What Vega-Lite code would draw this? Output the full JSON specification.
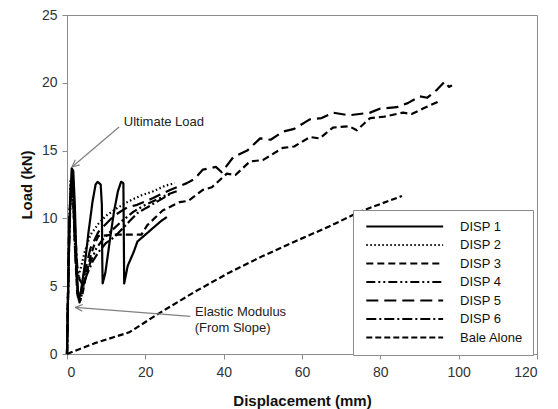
{
  "$schema": "https://vega.github.io/schema/vega-lite/v6.json",
  "width": 470,
  "height": 339,
  "autosize": "none",
  "padding": {"left": 67, "top": 15, "right": 21, "bottom": 55},
  "background": "white",
  "config": {
    "font": "Liberation Sans",
    "view": {"stroke": "#8c8c8c", "strokeWidth": 1},
    "axis": {
      "grid": false,
      "domainColor": "#8c8c8c",
      "tickColor": "#8c8c8c",
      "tickSize": 5,
      "labelFont": "Liberation Sans",
      "labelFontSize": 14,
      "labelColor": "#333333",
      "titleFont": "Liberation Sans",
      "titleFontSize": 15,
      "titleFontWeight": "bold",
      "titleColor": "#111111"
    },
    "legend": {
      "orient": "none",
      "legendX": 286,
      "legendY": 195,
      "padding": 10,
      "strokeColor": "#8c8c8c",
      "fillColor": "white",
      "symbolType": "M-1,0H23",
      "symbolSize": 41,
      "symbolStrokeColor": "black",
      "symbolFillColor": "transparent",
      "symbolStrokeWidth": 2,
      "labelFont": "Liberation Sans",
      "labelFontSize": 13,
      "labelColor": "#111111",
      "labelOffset": 84,
      "rowPadding": 4.5
    }
  },
  "datasets": {
    "curves": [
      {"s": "DISP 1", "x": 0, "y": 0}, {"s": "DISP 1", "x": 0.3, "y": 5}, {"s": "DISP 1", "x": 0.8, "y": 11}, {"s": "DISP 1", "x": 1.2, "y": 13.7}, {"s": "DISP 1", "x": 1.6, "y": 13.5}, {"s": "DISP 1", "x": 2, "y": 11}, {"s": "DISP 1", "x": 2.3, "y": 8}, {"s": "DISP 1", "x": 2.7, "y": 5}, {"s": "DISP 1", "x": 3, "y": 4}, {"s": "DISP 1", "x": 3.5, "y": 4.5}, {"s": "DISP 1", "x": 4.5, "y": 6.5}, {"s": "DISP 1", "x": 5.5, "y": 9}, {"s": "DISP 1", "x": 6.5, "y": 11.2}, {"s": "DISP 1", "x": 7.3, "y": 12.5}, {"s": "DISP 1", "x": 7.8, "y": 12.7}, {"s": "DISP 1", "x": 8.6, "y": 12.5}, {"s": "DISP 1", "x": 8.9, "y": 11}, {"s": "DISP 1", "x": 9.0, "y": 7}, {"s": "DISP 1", "x": 9.1, "y": 5.2}, {"s": "DISP 1", "x": 9.8, "y": 6}, {"s": "DISP 1", "x": 11, "y": 8.5}, {"s": "DISP 1", "x": 12, "y": 10.5}, {"s": "DISP 1", "x": 13, "y": 12}, {"s": "DISP 1", "x": 13.8, "y": 12.7}, {"s": "DISP 1", "x": 14.4, "y": 12.6}, {"s": "DISP 1", "x": 14.5, "y": 9}, {"s": "DISP 1", "x": 14.6, "y": 5.2}, {"s": "DISP 1", "x": 15.5, "y": 6.5}, {"s": "DISP 1", "x": 17, "y": 7.5}, {"s": "DISP 1", "x": 18, "y": 8.3}, {"s": "DISP 1", "x": 20.4, "y": 8.9}, {"s": "DISP 1", "x": 22, "y": 9.3}, {"s": "DISP 1", "x": 24, "y": 9.8}, {"s": "DISP 1", "x": 25.5, "y": 10.1},

      {"s": "DISP 2", "x": 0, "y": 0}, {"s": "DISP 2", "x": 0.4, "y": 7}, {"s": "DISP 2", "x": 0.9, "y": 12.8}, {"s": "DISP 2", "x": 1.4, "y": 12.9}, {"s": "DISP 2", "x": 1.8, "y": 10}, {"s": "DISP 2", "x": 2.2, "y": 7}, {"s": "DISP 2", "x": 2.6, "y": 5.5}, {"s": "DISP 2", "x": 3.4, "y": 6.2}, {"s": "DISP 2", "x": 4.5, "y": 7.5}, {"s": "DISP 2", "x": 6, "y": 8.8}, {"s": "DISP 2", "x": 8, "y": 9.6}, {"s": "DISP 2", "x": 10, "y": 10.2}, {"s": "DISP 2", "x": 13, "y": 10.8}, {"s": "DISP 2", "x": 16, "y": 11.3}, {"s": "DISP 2", "x": 19, "y": 11.7}, {"s": "DISP 2", "x": 22, "y": 12}, {"s": "DISP 2", "x": 25, "y": 12.4}, {"s": "DISP 2", "x": 27.5, "y": 12.6},

      {"s": "DISP 3", "x": 0, "y": 0}, {"s": "DISP 3", "x": 0.5, "y": 9}, {"s": "DISP 3", "x": 1, "y": 12.5}, {"s": "DISP 3", "x": 1.5, "y": 12}, {"s": "DISP 3", "x": 2, "y": 8}, {"s": "DISP 3", "x": 2.6, "y": 4.5}, {"s": "DISP 3", "x": 3.2, "y": 3.8}, {"s": "DISP 3", "x": 4, "y": 4.5}, {"s": "DISP 3", "x": 5, "y": 6}, {"s": "DISP 3", "x": 6, "y": 7.2}, {"s": "DISP 3", "x": 7, "y": 8.1}, {"s": "DISP 3", "x": 8, "y": 8.7}, {"s": "DISP 3", "x": 12, "y": 8.8}, {"s": "DISP 3", "x": 16, "y": 8.8}, {"s": "DISP 3", "x": 19, "y": 8.8}, {"s": "DISP 3", "x": 20.5, "y": 9.5}, {"s": "DISP 3", "x": 24.5, "y": 10.6}, {"s": "DISP 3", "x": 28.8, "y": 11.2}, {"s": "DISP 3", "x": 31, "y": 11.3}, {"s": "DISP 3", "x": 34.7, "y": 12.1}, {"s": "DISP 3", "x": 37, "y": 12.3}, {"s": "DISP 3", "x": 40.8, "y": 13.3}, {"s": "DISP 3", "x": 43, "y": 13.2}, {"s": "DISP 3", "x": 46.7, "y": 14.2}, {"s": "DISP 3", "x": 50, "y": 14.3}, {"s": "DISP 3", "x": 55.1, "y": 15.2}, {"s": "DISP 3", "x": 58, "y": 15.3}, {"s": "DISP 3", "x": 62, "y": 16}, {"s": "DISP 3", "x": 64.5, "y": 15.9}, {"s": "DISP 3", "x": 67.9, "y": 16.7}, {"s": "DISP 3", "x": 72, "y": 16.8}, {"s": "DISP 3", "x": 74, "y": 16.5}, {"s": "DISP 3", "x": 77.4, "y": 17.4}, {"s": "DISP 3", "x": 81, "y": 17.5}, {"s": "DISP 3", "x": 85.8, "y": 17.8}, {"s": "DISP 3", "x": 88, "y": 17.7}, {"s": "DISP 3", "x": 90.9, "y": 18.1}, {"s": "DISP 3", "x": 94.7, "y": 18.6},

      {"s": "DISP 4", "x": 0, "y": 0}, {"s": "DISP 4", "x": 0.5, "y": 8}, {"s": "DISP 4", "x": 1, "y": 12}, {"s": "DISP 4", "x": 1.6, "y": 11}, {"s": "DISP 4", "x": 2.2, "y": 7}, {"s": "DISP 4", "x": 2.8, "y": 4.2}, {"s": "DISP 4", "x": 3.5, "y": 4}, {"s": "DISP 4", "x": 4.5, "y": 5.5}, {"s": "DISP 4", "x": 6, "y": 6.8}, {"s": "DISP 4", "x": 7.5, "y": 7.8}, {"s": "DISP 4", "x": 9, "y": 8.4}, {"s": "DISP 4", "x": 11, "y": 9}, {"s": "DISP 4", "x": 14, "y": 9.8}, {"s": "DISP 4", "x": 17, "y": 10.5}, {"s": "DISP 4", "x": 20, "y": 11}, {"s": "DISP 4", "x": 23, "y": 11.4}, {"s": "DISP 4", "x": 26, "y": 11.8}, {"s": "DISP 4", "x": 28, "y": 12},

      {"s": "DISP 5", "x": 0, "y": 0}, {"s": "DISP 5", "x": 0.6, "y": 10}, {"s": "DISP 5", "x": 1.1, "y": 13.2}, {"s": "DISP 5", "x": 1.5, "y": 13}, {"s": "DISP 5", "x": 1.9, "y": 9.5}, {"s": "DISP 5", "x": 2.4, "y": 6}, {"s": "DISP 5", "x": 2.9, "y": 4.2}, {"s": "DISP 5", "x": 3.6, "y": 4.6}, {"s": "DISP 5", "x": 4.5, "y": 6}, {"s": "DISP 5", "x": 6, "y": 7.8}, {"s": "DISP 5", "x": 8, "y": 9}, {"s": "DISP 5", "x": 10, "y": 9.6}, {"s": "DISP 5", "x": 12, "y": 10.2}, {"s": "DISP 5", "x": 15.3, "y": 10.8}, {"s": "DISP 5", "x": 17.9, "y": 11}, {"s": "DISP 5", "x": 22, "y": 11.5}, {"s": "DISP 5", "x": 26.3, "y": 12.1}, {"s": "DISP 5", "x": 30.6, "y": 12.6}, {"s": "DISP 5", "x": 32.5, "y": 12.9}, {"s": "DISP 5", "x": 34.7, "y": 13.6}, {"s": "DISP 5", "x": 38, "y": 13.8}, {"s": "DISP 5", "x": 39.5, "y": 13.4}, {"s": "DISP 5", "x": 42.4, "y": 14.5}, {"s": "DISP 5", "x": 46, "y": 15}, {"s": "DISP 5", "x": 49.3, "y": 15.9}, {"s": "DISP 5", "x": 52, "y": 15.8}, {"s": "DISP 5", "x": 55.1, "y": 16.4}, {"s": "DISP 5", "x": 58, "y": 16.6}, {"s": "DISP 5", "x": 62, "y": 17.3}, {"s": "DISP 5", "x": 65, "y": 17.4}, {"s": "DISP 5", "x": 67.9, "y": 17.8}, {"s": "DISP 5", "x": 72, "y": 17.6}, {"s": "DISP 5", "x": 77.4, "y": 17.8}, {"s": "DISP 5", "x": 80, "y": 18.1}, {"s": "DISP 5", "x": 84.2, "y": 18.2}, {"s": "DISP 5", "x": 87, "y": 18.5}, {"s": "DISP 5", "x": 90.1, "y": 19}, {"s": "DISP 5", "x": 92, "y": 18.9}, {"s": "DISP 5", "x": 94.5, "y": 19.5}, {"s": "DISP 5", "x": 96.5, "y": 20.1}, {"s": "DISP 5", "x": 97.5, "y": 19.7}, {"s": "DISP 5", "x": 98.3, "y": 19.8},

      {"s": "DISP 6", "x": 0, "y": 0}, {"s": "DISP 6", "x": 0.7, "y": 10.5}, {"s": "DISP 6", "x": 1.3, "y": 12.8}, {"s": "DISP 6", "x": 1.7, "y": 12}, {"s": "DISP 6", "x": 2.1, "y": 9}, {"s": "DISP 6", "x": 2.6, "y": 6.5}, {"s": "DISP 6", "x": 3.2, "y": 5.5}, {"s": "DISP 6", "x": 4.2, "y": 5}, {"s": "DISP 6", "x": 5, "y": 5.8}, {"s": "DISP 6", "x": 6.5, "y": 6.8}, {"s": "DISP 6", "x": 8, "y": 7.5}, {"s": "DISP 6", "x": 10, "y": 8.2}, {"s": "DISP 6", "x": 12, "y": 8.6}, {"s": "DISP 6", "x": 14, "y": 9.2}, {"s": "DISP 6", "x": 16, "y": 9.8}, {"s": "DISP 6", "x": 18, "y": 10.4}, {"s": "DISP 6", "x": 21, "y": 10.9}, {"s": "DISP 6", "x": 24, "y": 11.4}, {"s": "DISP 6", "x": 27, "y": 11.9},

      {"s": "Bale Alone", "x": 0, "y": 0}, {"s": "Bale Alone", "x": 7.1, "y": 0.8}, {"s": "Bale Alone", "x": 15.9, "y": 1.6}, {"s": "Bale Alone", "x": 23.5, "y": 3.0}, {"s": "Bale Alone", "x": 32.7, "y": 4.6}, {"s": "Bale Alone", "x": 41.4, "y": 6.0}, {"s": "Bale Alone", "x": 49.8, "y": 7.2}, {"s": "Bale Alone", "x": 58.2, "y": 8.3}, {"s": "Bale Alone", "x": 66.9, "y": 9.4}, {"s": "Bale Alone", "x": 74.8, "y": 10.5}, {"s": "Bale Alone", "x": 85.5, "y": 11.65}
    ],
    "arrows": [
      {"x": 13.3, "y": 16.74, "x2": 1.28, "y2": 13.79},
      {"x": 1.28, "y": 13.79, "x2": 3.24, "y2": 13.95},
      {"x": 1.28, "y": 13.79, "x2": 2.12, "y2": 14.33},
      {"x": 31.5, "y": 2.78, "x2": 2.12, "y2": 3.44},
      {"x": 2.12, "y": 3.44, "x2": 3.91, "y2": 3.15},
      {"x": 2.12, "y": 3.44, "x2": 4.03, "y2": 3.65}
    ],
    "notes": [
      {"x": 14.5, "y": 17.1, "label": "Ultimate Load"},
      {"x": 32.7, "y": 3.13, "label": "Elastic Modulus"},
      {"x": 32.6, "y": 1.92, "label": "(From Slope)"}
    ]
  },
  "layer": [
    {
      "data": {"name": "curves"},
      "mark": {"type": "line", "color": "black", "strokeWidth": 2.2, "strokeJoin": "round"},
      "encoding": {
        "x": {
          "field": "x", "type": "quantitative",
          "scale": {"domain": [0, 120], "nice": false},
          "axis": {"title": "Displacement (mm)", "values": [0, 20, 40, 60, 80, 100, 120], "labelPadding": 6, "titleBaseline": "alphabetic", "titleY": 51}
        },
        "y": {
          "field": "y", "type": "quantitative",
          "scale": {"domain": [0, 25], "nice": false},
          "axis": {"title": "Load (kN)", "values": [0, 5, 10, 15, 20, 25], "labelPadding": 5, "titleX": -33, "titleY": 169.5, "titleAngle": -90, "titleBaseline": "bottom"}
        },
        "strokeDash": {
          "field": "s", "type": "nominal",
          "scale": {
            "domain": ["DISP 1", "DISP 2", "DISP 3", "DISP 4", "DISP 5", "DISP 6", "Bale Alone"],
            "range": [[1, 0], [1.5, 2.5], [7, 4], [9, 3, 2, 3, 2, 3], [12, 6], [10, 3, 2, 3], [6, 3]]
          },
          "legend": {"title": null}
        },
        "order": {"value": null}
      }
    },
    {
      "data": {"name": "arrows"},
      "mark": {"type": "rule", "color": "#808080", "strokeWidth": 1.2},
      "encoding": {
        "x": {"field": "x", "type": "quantitative"},
        "y": {"field": "y", "type": "quantitative"},
        "x2": {"field": "x2"},
        "y2": {"field": "y2"}
      }
    },
    {
      "data": {"name": "notes"},
      "mark": {"type": "text", "align": "left", "baseline": "middle", "font": "Liberation Sans", "fontSize": 13, "color": "#222222"},
      "encoding": {
        "x": {"field": "x", "type": "quantitative"},
        "y": {"field": "y", "type": "quantitative"},
        "text": {"field": "label"}
      }
    }
  ]
}
